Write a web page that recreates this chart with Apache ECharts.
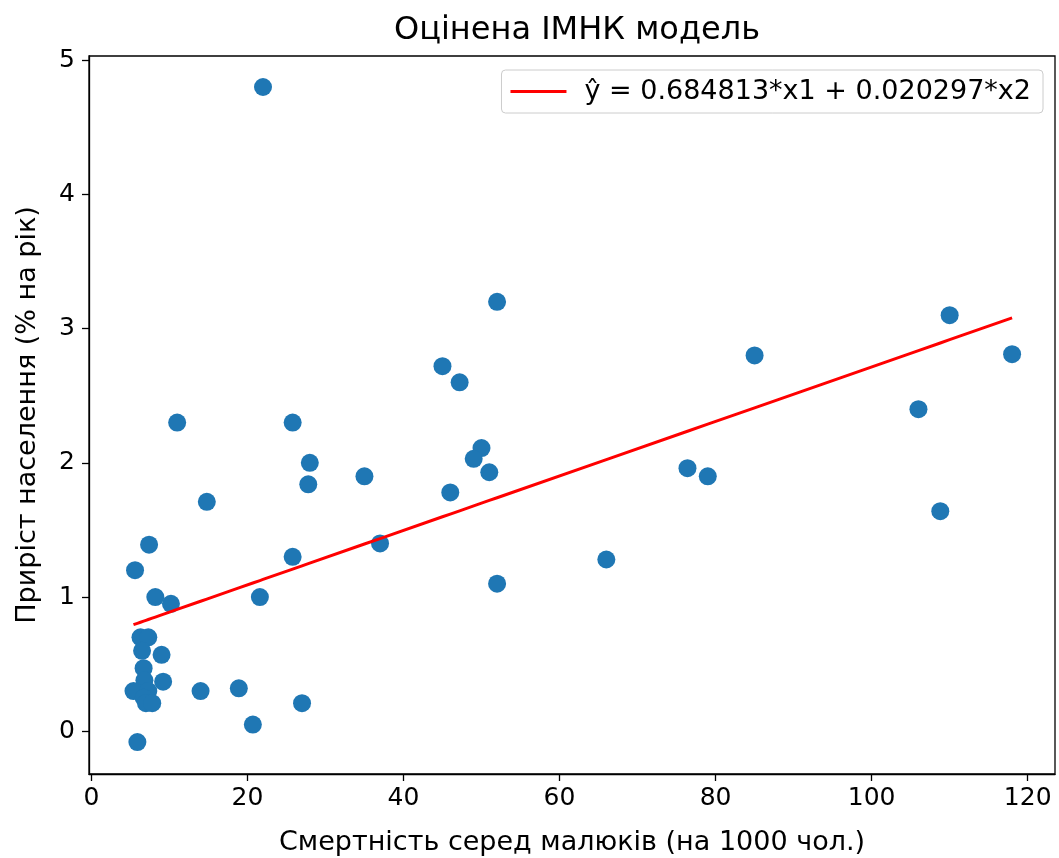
<!DOCTYPE html>
<html>
<head>
<meta charset="utf-8">
<title>Оцінена ІМНК модель</title>
<script src="https://cdn.jsdelivr.net/npm/echarts@6/dist/echarts.min.js"></script>
<style>
  html, body { margin: 0; padding: 0; background: #fff; }
  #main { width: 1059px; height: 858px; }
</style>
</head>
<body>
<div id="main"></div>
<script>
// смертність серед малюків (x) і приріст населення (y)
var xVals = [22, 52, 110, 118, 85, 45, 47.2, 106, 11, 25.8, 50, 49, 28, 51, 76.4, 79, 35, 27.8, 46, 14.8,
  108.8, 37, 7.4, 25.8, 66, 5.6, 52, 21.6, 8.2, 10.2,
  6.3, 7.3, 6.5, 9.0, 6.7, 6.8, 9.2, 5.4, 7.3, 6.7, 7.0, 7.8, 14.0, 18.9, 27.0, 20.7, 5.9];
var yVals = [4.8, 3.2, 3.1, 2.81, 2.8, 2.72, 2.6, 2.4, 2.3, 2.3, 2.11, 2.03, 2.0, 1.93, 1.96, 1.9, 1.9, 1.84, 1.78, 1.71,
  1.64, 1.4, 1.39, 1.3, 1.28, 1.2, 1.1, 1.0, 1.0, 0.95,
  0.7, 0.7, 0.6, 0.57, 0.47, 0.38, 0.37, 0.3, 0.3, 0.25, 0.21, 0.21, 0.3, 0.32, 0.21, 0.05, -0.08];
// коефіцієнти моделі з легенди
var b1 = 0.684813;
var b2 = 0.020297;
var xTicks = [0, 20, 40, 60, 80, 100, 120];
var yTicks = [0, 1, 2, 3, 4, 5];

var points = [];
for (var i = 0; i < xVals.length; i++) {
  points.push([xVals[i], yVals[i]]);
}
var sortedX = xVals.slice().sort(function (a, b) { return a - b; });
var fitLine = [];
for (var j = 0; j < sortedX.length; j++) {
  fitLine.push([sortedX[j], b1 + b2 * sortedX[j]]);
}

var font = 'DejaVu Sans';
var chart = echarts.init(document.getElementById('main'), null, { renderer: 'canvas' });
var option = {
  backgroundColor: '#fff',
  animation: false,
  title: {
    text: 'Оцінена ІМНК модель',
    left: 572,
    textAlign: 'center',
    top: 10,
    textStyle: { fontFamily: font, fontSize: 32, fontWeight: 'normal', color: '#000' }
  },
  legend: {
    data: ['ŷ = 0.684813*x1 + 0.020297*x2'],
    right: 16,
    top: 70,
    padding: [8, 12, 8, 9],
    backgroundColor: 'rgba(255,255,255,0.8)',
    borderColor: '#cccccc',
    borderWidth: 1,
    borderRadius: 4,
    itemWidth: 56,
    itemHeight: 3,
    icon: 'rect',
    textStyle: { fontFamily: font, fontSize: 27, color: '#000', padding: [0, 0, 0, 13] }
  },
  grid: {
    left: 89,
    right: 4,
    top: 56,
    bottom: 84,
    show: true,
    borderColor: '#000',
    borderWidth: 1.3,
    containLabel: false,
    outerBoundsMode: 'none'
  },
  xAxis: {
    type: 'value',
    min: -0.3,
    max: 123.5,
    name: 'Смертність серед малюків (на 1000 чол.)',
    nameLocation: 'middle',
    nameGap: 55,
    nameTextStyle: { fontFamily: font, fontSize: 27, color: '#000' },
    axisLine: { show: true, onZero: false, lineStyle: { color: '#000', width: 1.3 } },
    axisTick: { show: true, length: 7, lineStyle: { color: '#000', width: 1.3 }, customValues: xTicks },
    axisLabel: { fontFamily: font, fontSize: 25, color: '#000', margin: 12, customValues: xTicks },
    splitLine: { show: false }
  },
  yAxis: {
    type: 'value',
    min: -0.318,
    max: 5.031,
    name: 'Приріст населення (% на рік)',
    nameLocation: 'middle',
    nameGap: 48,
    nameTextStyle: { fontFamily: font, fontSize: 27, color: '#000' },
    axisLine: { show: true, onZero: false, lineStyle: { color: '#000', width: 1.3 } },
    axisTick: { show: true, length: 7, lineStyle: { color: '#000', width: 1.3 }, customValues: yTicks },
    axisLabel: { fontFamily: font, fontSize: 25, color: '#000', margin: 14, customValues: yTicks },
    splitLine: { show: false }
  },
  series: [{
    name: 'дані',
    type: 'scatter',
    data: points,
    symbolSize: 18,
    itemStyle: { color: '#1f77b4', opacity: 1 },
    z: 2
  }, {
    name: 'ŷ = 0.684813*x1 + 0.020297*x2',
    type: 'line',
    data: fitLine,
    showSymbol: false,
    symbol: 'none',
    lineStyle: { color: 'red', width: 3 },
    itemStyle: { color: 'red' },
    z: 3
  }]
};
chart.setOption(option);
</script>
</body>
</html>
